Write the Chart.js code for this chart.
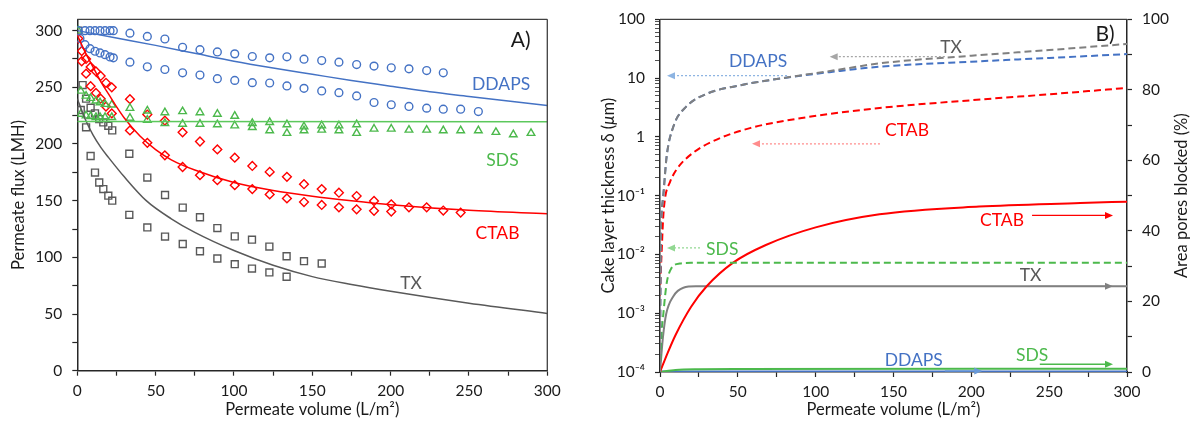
<!DOCTYPE html>
<html>
<head>
<meta charset="utf-8">
<script src="https://cdn.jsdelivr.net/npm/chart.js@4.4.0/dist/chart.umd.min.js"></script>
<style>
  html, body { margin: 0; padding: 0; background: #fff; }
  #wrap { position: relative; width: 1192px; height: 428px; }
  canvas { position: absolute; top: 0; }
</style>
</head>
<body>
<div id="wrap">
  <canvas id="fluxChart" width="596" height="428" style="left:0;width:596px;height:428px"></canvas>
  <canvas id="cakeChart" width="596" height="428" style="left:596px;width:596px;height:428px"></canvas>
</div>
<script>
// ---- Panel A: permeate flux (LMH) vs permeate volume (L/m2) ----
const ddapsVolA  = [0.6, 4.9, 8.1, 11.3, 14.5, 17.7, 20.9, 23, 33.6, 44.7, 55.9, 67.2, 78.3, 89.4, 100.5, 111.7, 122.8, 133.8, 144.7, 156, 167, 178.3, 189.4, 200.4, 211.7, 223, 233.6];
const ddapsFluxA = [300, 300, 300, 300, 300, 300, 300, 300, 297.8, 294.9, 292.6, 285.3, 283.2, 281.2, 279.5, 277.2, 276, 276.9, 274.8, 273.6, 272.2, 270.1, 268.7, 267.2, 266.3, 264.8, 262.8];
const ddapsVolB  = [1.7, 4.9, 8.1, 11.3, 14.5, 17.7, 20.9, 23, 33.6, 44.7, 55.9, 67.2, 78.3, 89.4, 100.5, 111.7, 122.8, 133.8, 144.7, 156, 167, 178.3, 189.4, 200.4, 211.7, 223, 233.6, 244.7, 256];
const ddapsFluxB = [293, 287.6, 284.1, 281.8, 280.3, 278.8, 276.8, 276, 272.2, 268.1, 265.7, 262.8, 260.8, 257.6, 256.1, 254.1, 253.8, 251.2, 249.1, 246.8, 245.3, 242.4, 236.6, 234.6, 233.1, 231.6, 230.7, 230.7, 228.6];

const sdsVolA  = [0.6, 2.2, 5.6, 8.5, 11.9, 14.5, 17.7, 22, 33.6, 44.7, 55.9, 67.2, 78.3, 89.4, 100.5, 111.7, 122.8, 133.8, 144.7, 156, 167, 178.3, 189.4, 200.4, 211.7, 223, 233.6, 244.7, 256, 267.2, 278.3, 289.6];
const sdsFluxA = [300, 246.8, 242.4, 240.4, 238.1, 236.6, 235.1, 234.6, 231.6, 229.3, 227.8, 228.7, 227.8, 226.4, 224.6, 218.2, 219.1, 217.1, 215.3, 216.2, 216.2, 217.1, 213.3, 213.3, 212.4, 212.4, 211.8, 211.8, 211.8, 210.4, 208.3, 209.5];
const sdsVolB  = [2.2, 5.6, 8.5, 11.9, 14.5, 17.7, 22, 33.6, 44.7, 55.9, 67.2, 78.3, 89.4, 100.5, 111.7, 122.8, 133.8, 144.7, 156, 167, 178.3];
const sdsFluxB = [226.4, 225, 224.4, 223.5, 223.5, 223.5, 223.5, 222.9, 221.1, 218.2, 217.6, 217.6, 217.1, 216.2, 214.7, 211.8, 209.5, 211.8, 212.4, 211.8, 209.5];

const ctabVolA  = [0.6, 2.8, 5.6, 8.5, 11.9, 14.9, 18.3, 22, 33.6, 44.7, 55.9, 67.2, 78.3, 89.4, 100.5, 111.7, 122.8, 133.8, 144.7, 156, 167, 178.3, 189.4, 200.4, 211.7, 223, 233.6, 244.7];
const ctabFluxA = [293, 282, 275, 268, 264, 260, 254, 250, 239.5, 226, 220.6, 210.3, 202.2, 195.2, 187.9, 180.6, 175.4, 171, 164.5, 160.2, 157, 154.1, 149.7, 146.8, 144.1, 144.1, 141.3, 139.5];
const ctabVolB  = [2.8, 5.6, 8.5, 11.9, 14.9, 18.3, 22, 33.6, 44.7, 55.9, 67.2, 78.3, 89.4, 100.5, 111.7, 122.8, 133.8, 144.7, 156, 167, 178.3, 189.4, 200.4];
const ctabFluxB = [273, 262, 251, 245, 240, 233, 227, 212, 201, 190, 179.7, 172.5, 168.1, 163.7, 160.2, 155.5, 152, 148.8, 146.2, 144.1, 142.4, 141, 140.4];

const txVolA  = [0.6, 3.4, 5.6, 8.5, 11.3, 14, 16.6, 19.8, 22.3, 33.2, 44.7, 56, 67.3, 78.3, 89.4, 100.5, 111.5, 122.6, 133.6, 144.7, 156];
const txFluxA = [300, 252, 240, 232, 227, 222, 219, 216, 212, 191.4, 170.4, 155, 143.9, 135.4, 125.8, 118.5, 115.6, 109.5, 101, 96.6, 94.6];
const txVolB  = [2.2, 5.6, 8.5, 11.3, 14, 16.6, 19.8, 22.3, 33.2, 44.7, 56, 67.3, 78.3, 89.4, 100.5, 111.5, 122.6, 133.6];
const txFluxB = [230, 214.7, 189.4, 174.8, 166, 160.2, 154.4, 150, 137.5, 126.4, 118.3, 111.8, 105.4, 99, 94, 90.1, 86.7, 82.9];

// model curves (solid lines)
const ddapsFitVol  = [0, 25, 50, 75, 100, 125, 150, 175, 200, 225, 250, 275, 300];
const ddapsFitFlux = [300, 293.5, 287, 280, 273, 267, 261.5, 256, 251, 246, 242, 238, 234];
const sdsFitVol  = [0, 300];
const sdsFitFlux = [219.8, 219.6];
const ctabFitVol  = [0, 5, 10, 15, 20, 25, 30, 40, 50, 60, 75, 100, 125, 150, 175, 200, 250, 300];
const ctabFitFlux = [296, 281, 268, 255, 244, 233, 223, 207, 195, 186, 177, 166, 159, 154, 150, 146.5, 141.5, 138.5];
const txFitVol  = [0, 5, 10, 15, 20, 30, 44, 60, 75, 100, 125, 150, 175, 200, 250, 300];
const txFitFlux = [240, 222, 208, 197, 188, 171, 150, 134, 122, 106, 93, 83, 76, 70, 59.5, 50.5];

// ---- Panel B: cake thickness (um, log) and area of pores blocked (%) ----
const txThickVol = [0, 0.5, 1, 2.1, 4.3, 8.6, 17, 30, 51, 79, 111, 141, 200, 250, 300];
const txThick    = [0.0001, 0.02, 0.05, 0.1, 0.47, 1.5, 3.3, 5.4, 7.5, 10, 13.4, 17.8, 24, 30, 38];
const ddapsThickVol = [0, 0.5, 1, 2.1, 4.3, 8.6, 17, 30, 51, 79, 111, 141, 200, 250, 300];
const ddapsThick    = [0.0001, 0.02, 0.05, 0.1, 0.47, 1.5, 3.3, 5.4, 7.5, 10, 12.8, 15.6, 19, 22, 25.6];
const ctabThickVol = [0, 0.5, 1, 2, 3.2, 6.4, 10.7, 21.4, 36.4, 57.8, 90, 141, 200, 250, 300];
const ctabThick    = [0.002, 0.005, 0.01, 0.04, 0.089, 0.17, 0.28, 0.54, 0.9, 1.41, 2.07, 3.1, 4.2, 5.3, 6.8];
const sdsThickVol = [0, 1.1, 2.2, 3.2, 4.5, 7.3, 12.8, 20, 300];
const sdsThick    = [0.0001, 0.0005, 0.001, 0.0019, 0.0035, 0.0058, 0.007, 0.0072, 0.0072];

const ctabPoreVol = [0, 5, 10, 20, 30, 47, 68, 100, 141, 205, 270, 300];
const ctabPore    = [0, 5.5, 10.5, 18.5, 24.3, 31, 36, 41, 44.7, 46.9, 47.9, 48.3];
const txPoreVol = [0, 1.9, 4, 8.6, 15, 23, 30, 300];
const txPore    = [0, 9.9, 16.5, 21.5, 23.9, 24.3, 24.3, 24.3];
const sdsPoreVol = [0, 10, 25, 50, 300];
const sdsPore    = [0, 0.6, 0.8, 0.85, 0.9];
const ddapsPoreVol = [0, 300];
const ddapsPore    = [0.1, 0.1];

// axis ticks
const volTicks  = [0, 25, 50, 75, 100, 125, 150, 175, 200, 225, 250, 275, 300];
const fluxTicks = [0, 25, 50, 75, 100, 125, 150, 175, 200, 225, 250, 275, 300];
const poreTicks = [0, 10, 20, 30, 40, 50, 60, 70, 80, 90, 100];
const thickDecades = [1e-4, 1e-3, 1e-2, 1e-1, 1, 10, 100];
const thickDecadeLabels = ['10⁻⁴', '10⁻³', '10⁻²', '10⁻¹', '1', '10', '100'];

// ---- styling ----
const FONT = 'Lato, "Open Sans", sans-serif';
const TEXT = '#1a1a1a';
const AXIS = '#262626';
const BLUE = '#4472c4', GREEN = '#4cb94c', RED = '#ff0000', DARK = '#595959', GRAY = '#808080';
const TICK_SIZE = 15.5, TITLE_SIZE = 16.5;

const pts = (xs, ys) => xs.map((x, i) => ({x: x, y: ys[i]}));

function markers(xs, ys, color, style, r) {
  return {
    data: pts(xs, ys), showLine: false, pointStyle: style, pointRadius: r,
    pointBorderColor: color, pointBackgroundColor: 'rgba(255,255,255,0)', pointBorderWidth: 1.4
  };
}
function curve(xs, ys, color, width, dash, axis) {
  return {
    data: pts(xs, ys), showLine: true, pointRadius: 0, borderColor: color, borderWidth: width,
    borderDash: dash || [], cubicInterpolationMode: 'monotone', yAxisID: axis || 'y'
  };
}

function axisBase(pad) {
  return {
    grid: {display: true, drawOnChartArea: false, drawTicks: true, tickLength: 5, tickColor: AXIS, tickWidth: 1.2},
    border: {display: true, color: AXIS, width: 1.5},
    ticks: {color: TEXT, font: {family: FONT, size: TICK_SIZE}, padding: pad, autoSkip: false, maxRotation: 0}
  };
}
function volAxis(height) {
  const a = axisBase(6);
  a.type = 'linear'; a.min = 0; a.max = 300;
  a.afterFit = s => { s.height = height; };
  a.afterBuildTicks = s => { s.ticks = volTicks.map(v => ({value: v})); };
  a.ticks.callback = v => (v % 50 === 0 ? String(v) : '');
  a.title = {display: true, text: 'Permeate volume (L/m²)', color: TEXT, font: {family: FONT, size: TITLE_SIZE}, padding: {top: 0, bottom: 8}};
  return a;
}

// annotations, frames and rotated axis titles
const notesPlugin = {
  id: 'notes',
  afterDraw(chart, args, opts) {
    const ctx = chart.ctx, area = chart.chartArea, xs = chart.scales.x;
    ctx.save();
    ctx.strokeStyle = '#404040'; ctx.lineWidth = 1.3;
    (opts.frame || []).forEach(side => {
      ctx.beginPath();
      if (side === 'top') { ctx.moveTo(area.left, area.top); ctx.lineTo(area.right, area.top); }
      if (side === 'right') { ctx.moveTo(area.right, area.top); ctx.lineTo(area.right, area.bottom); }
      ctx.stroke();
    });
    (opts.arrows || []).forEach(a => {
      const ys = chart.scales[a.axis];
      const x1 = xs.getPixelForValue(a.x1), x2 = xs.getPixelForValue(a.x2), y = ys.getPixelForValue(a.y);
      const dir = Math.sign(x2 - x1);
      ctx.strokeStyle = a.color; ctx.fillStyle = a.color; ctx.lineWidth = 1.3;
      ctx.setLineDash(a.dotted ? [2, 2] : []);
      ctx.beginPath(); ctx.moveTo(x1, y); ctx.lineTo(x2 - dir * 6, y); ctx.stroke();
      ctx.setLineDash([]);
      ctx.beginPath(); ctx.moveTo(x2, y); ctx.lineTo(x2 - dir * 8, y - 3.5); ctx.lineTo(x2 - dir * 8, y + 3.5);
      ctx.closePath(); ctx.fill();
    });
    ctx.textAlign = 'center'; ctx.textBaseline = 'middle';
    (opts.labels || []).forEach(l => {
      const ys = chart.scales[l.axis || 'y'];
      ctx.font = (l.size || 17.5) + 'px ' + FONT;
      ctx.fillStyle = l.color;
      ctx.fillText(l.text, xs.getPixelForValue(l.x), ys.getPixelForValue(l.y));
    });
    (opts.titles || []).forEach(t => {
      const cy = (area.top + area.bottom) / 2;
      ctx.save(); ctx.translate(t.x, cy); ctx.rotate(-Math.PI / 2);
      let total = 0;
      const fontFor = p => (p.italic ? 'italic ' : '') + TITLE_SIZE + 'px ' + FONT;
      t.parts.forEach(p => { ctx.font = fontFor(p); p.w = ctx.measureText(p.text).width; total += p.w; });
      let x = -total / 2;
      ctx.textAlign = 'left'; ctx.fillStyle = TEXT;
      t.parts.forEach(p => { ctx.font = fontFor(p); ctx.fillText(p.text, x, 0); x += p.w; });
      ctx.restore();
    });
    ctx.restore();
  }
};

// ---- Panel A chart ----
const fluxY = axisBase(10);
fluxY.min = 0; fluxY.max = 310;
fluxY.afterFit = s => { s.width = 77.3; };
fluxY.afterBuildTicks = s => { s.ticks = fluxTicks.map(v => ({value: v})); };
fluxY.ticks.callback = v => (v % 50 === 0 ? String(v) : '');

new Chart(document.getElementById('fluxChart'), {
  type: 'scatter',
  data: {
    datasets: [
      curve(ddapsFitVol, ddapsFitFlux, BLUE, 1.5),
      curve(sdsFitVol, sdsFitFlux, '#5cc85c', 1.5),
      curve(ctabFitVol, ctabFitFlux, RED, 1.5),
      curve(txFitVol, txFitFlux, DARK, 1.5),
      markers(ddapsVolA, ddapsFluxA, BLUE, 'circle', 3.9),
      markers(ddapsVolB, ddapsFluxB, BLUE, 'circle', 3.9),
      markers(sdsVolA, sdsFluxA, GREEN, 'triangle', 4.4),
      markers(sdsVolB, sdsFluxB, GREEN, 'triangle', 4.4),
      markers(ctabVolA, ctabFluxA, RED, 'rectRot', 4.4),
      markers(ctabVolB, ctabFluxB, RED, 'rectRot', 4.4),
      markers(txVolA, txFluxA, DARK, 'rect', 4.9),
      markers(txVolB, txFluxB, DARK, 'rect', 4.9)
    ]
  },
  options: {
    responsive: false, animation: false, events: [],
    layout: {padding: {top: 16, right: 48.7, left: 0, bottom: 0}},
    plugins: {
      legend: {display: false}, tooltip: {enabled: false},
      notes: {
        frame: ['top', 'right'],
        labels: [
          {text: 'A)', x: 283, y: 291.7, color: TEXT, size: 21},
          {text: 'DDAPS', x: 270.5, y: 252.3, color: BLUE},
          {text: 'SDS', x: 271.4, y: 185.9, color: GREEN},
          {text: 'CTAB', x: 268.2, y: 121.1, color: RED},
          {text: 'TX', x: 213, y: 77.4, color: DARK}
        ],
        titles: [{x: 19, parts: [{text: 'Permeate flux (LMH)'}]}]
      }
    },
    scales: {x: volAxis(57.3), y: fluxY}
  },
  plugins: [notesPlugin]
});

// ---- Panel B chart ----
const thickY = axisBase(10);
thickY.type = 'logarithmic'; thickY.min = 1e-4; thickY.max = 100; thickY.position = 'left';
thickY.afterFit = s => { s.width = 64; };
thickY.afterBuildTicks = s => {
  const t = [];
  thickDecades.forEach((d, i) => {
    if (i === thickDecades.length - 1) { t.push({value: d, lbl: thickDecadeLabels[i]}); return; }
    for (let m = 1; m < 10; m++) t.push({value: d * m, lbl: m === 1 ? thickDecadeLabels[i] : ''});
  });
  s.ticks = t;
};
thickY.ticks.callback = (v, i, ticks) => ticks[i].lbl;
thickY.grid.tickWidth = c => (c.tick && c.tick.lbl ? 1.2 : 0.8);

const poreY = axisBase(10);
poreY.type = 'linear'; poreY.min = 0; poreY.max = 100; poreY.position = 'right';
poreY.afterFit = s => { s.width = 65; };
poreY.afterBuildTicks = s => { s.ticks = poreTicks.map(v => ({value: v})); };
poreY.ticks.callback = v => (v % 20 === 0 ? String(v) : '');

new Chart(document.getElementById('cakeChart'), {
  type: 'scatter',
  data: {
    datasets: [
      curve(txThickVol, txThick, GRAY, 2, [7, 4], 'y'),
      curve(ddapsThickVol, ddapsThick, BLUE, 2, [7, 4], 'y'),
      curve(ctabThickVol, ctabThick, RED, 2, [7, 4], 'y'),
      curve(sdsThickVol, sdsThick, GREEN, 2, [7, 4], 'y'),
      curve(ctabPoreVol, ctabPore, RED, 2, null, 'y2'),
      curve(txPoreVol, txPore, GRAY, 2, null, 'y2'),
      curve(sdsPoreVol, sdsPore, GREEN, 2, null, 'y2'),
      curve(ddapsPoreVol, ddapsPore, BLUE, 2.5, null, 'y2')
    ]
  },
  options: {
    responsive: false, animation: false, events: [],
    layout: {padding: {top: 14.5, right: 0, left: 0, bottom: 0}},
    plugins: {
      legend: {display: false}, tooltip: {enabled: false},
      notes: {
        frame: ['top'],
        arrows: [
          {axis: 'y', x1: 81.6, x2: 4.5, y: 11, color: '#8db4e2', dotted: true},
          {axis: 'y', x1: 183, x2: 109, y: 23.1, color: '#a6a6a6', dotted: true},
          {axis: 'y', x1: 141.3, x2: 59.1, y: 0.76, color: '#ff8c8c', dotted: true},
          {axis: 'y', x1: 25.7, x2: 4.5, y: 0.0129, color: '#92d892', dotted: true},
          {axis: 'y2', x1: 239, x2: 291, y: 44.4, color: RED},
          {axis: 'y2', x1: 237.7, x2: 291, y: 24.3, color: GRAY},
          {axis: 'y2', x1: 244, x2: 291, y: 2.2, color: GREEN},
          {axis: 'y2', x1: 183, x2: 207, y: 0.3, color: '#6a9ad8'}
        ],
        labels: [
          {text: 'B)', axis: 'y2', x: 285.9, y: 95.7, color: TEXT, size: 21},
          {text: 'DDAPS', axis: 'y', x: 63, y: 19.4, color: BLUE},
          {text: 'TX', axis: 'y', x: 187, y: 33.3, color: DARK},
          {text: 'CTAB', axis: 'y', x: 158.7, y: 1.31, color: RED},
          {text: 'SDS', axis: 'y', x: 40, y: 0.0121, color: GREEN},
          {text: 'CTAB', axis: 'y2', x: 219.7, y: 43.1, color: RED},
          {text: 'TX', axis: 'y2', x: 238, y: 27.4, color: DARK},
          {text: 'SDS', axis: 'y2', x: 239, y: 4.8, color: GREEN},
          {text: 'DDAPS', axis: 'y2', x: 163, y: 3.2, color: BLUE}
        ],
        titles: [
          {x: 13, parts: [{text: 'Cake layer thickness δ ('}, {text: 'μ', italic: true}, {text: 'm)'}]},
          {x: 586, parts: [{text: 'Area pores blocked (%)'}]}
        ]
      }
    },
    scales: {x: volAxis(56), y: thickY, y2: poreY}
  },
  plugins: [notesPlugin]
});
</script>
</body>
</html>
